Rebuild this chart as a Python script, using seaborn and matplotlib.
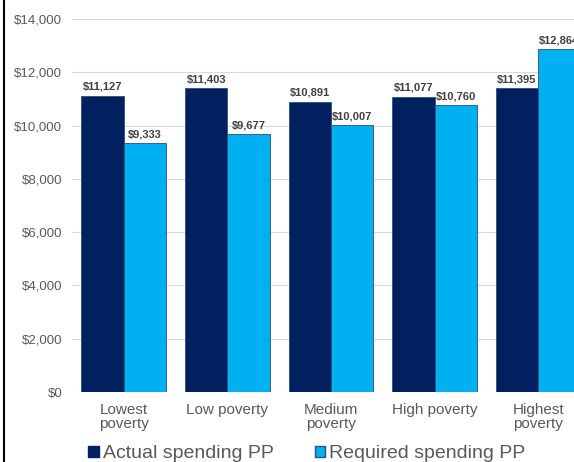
import matplotlib
matplotlib.use("Agg")
import matplotlib.pyplot as plt
from matplotlib.lines import Line2D
from matplotlib.patches import Patch
import pandas as pd
import seaborn as sns

# data
categories = ["Lowest\npoverty", "Low poverty", "Medium\npoverty", "High poverty", "Highest\npoverty"]
actual_spending = [11127, 11403, 10891, 11077, 11395]
required_spending = [9333, 9677, 10007, 10760, 12864]
series_names = ["Actual spending PP", "Required spending PP"]
y_ticks = [0, 2000, 4000, 6000, 8000, 10000, 12000, 14000]

DARK = "#002060"
LIGHT = "#00B0F0"
GRAY = "#595959"

sns.set_style("white")
plt.rcParams["font.family"] = ["Liberation Sans", "DejaVu Sans"]

df = pd.DataFrame({
    "category": categories * 2,
    "value": actual_spending + required_spending,
    "series": [series_names[0]] * len(categories) + [series_names[1]] * len(categories),
})

fig = plt.figure(figsize=(5.74, 4.62), dpi=100)
# plot area runs past the right edge, as in the reference crop
ax = fig.add_axes([72 / 574, 1 - 392 / 462, (590 - 72) / 574, (392 - 19) / 462])

sns.barplot(
    data=df, x="category", y="value", hue="series", order=categories,
    palette=[DARK, LIGHT], width=0.82, gap=0, ax=ax, legend=False,
    edgecolor="#2E4F7A", linewidth=0.6, saturation=1,
)

for container in ax.containers:
    ax.bar_label(
        container, labels=[f"${v.get_height():,.0f}" for v in container],
        padding=3, fontsize=8, fontweight="bold", color="#404040",
    )

ax.set_ylim(0, 14000)
ax.set_xlim(-0.5, len(categories) - 0.5)
ax.set_yticks(y_ticks)
ax.set_yticklabels([f"${t:,}" for t in y_ticks])
ax.yaxis.grid(True, color="#D9D9D9", linewidth=0.8)
ax.set_axisbelow(True)
ax.set_xlabel("")
ax.set_ylabel("")
ax.tick_params(axis="y", length=0, pad=7, labelsize=9.5, labelcolor=GRAY)
ax.tick_params(axis="x", length=0, pad=8, labelsize=11, labelcolor=GRAY)
for lbl in ax.get_xticklabels():
    lbl.set_linespacing(0.95)
for side in ["left", "right", "top", "bottom"]:
    ax.spines[side].set_visible(False)

handles = [Patch(facecolor=DARK, edgecolor=DARK), Patch(facecolor=LIGHT, edgecolor="#2E4F7A")]
leg = fig.legend(
    handles, series_names, loc="center", bbox_to_anchor=(307 / 574, 1 - 454 / 462),
    ncol=2, frameon=False, fontsize=14, handlelength=0.55, handleheight=0.55,
    handletextpad=0.2, columnspacing=2.1, borderpad=0, borderaxespad=0,
)
for t in leg.get_texts():
    t.set_color(GRAY)

# black border line on the left edge
fig.add_artist(Line2D([4 / 574, 4 / 574], [0, 1], color="black", linewidth=1.5))

plt.savefig("out.png", dpi=100)
plt.close()
